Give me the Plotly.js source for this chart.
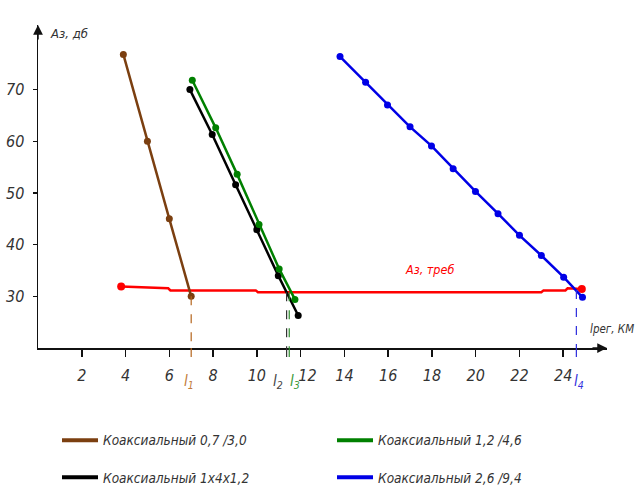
<!DOCTYPE html>
<html><head><meta charset="utf-8">
<script src="https://cdn.plot.ly/plotly-3.0.1.min.js"></script>
<style>html,body{margin:0;padding:0;background:#fff}</style>
</head><body>
<div id="chart" style="width:643px;height:497px"></div>
<script>
// ---- data ----
const brownName = 'Коаксиальный 0,7 /3,0';
const brownX = [3.9, 5.0, 6.0, 7.0];
const brownY = [76.8, 60.0, 45.0, 30.0];

const greenName = 'Коаксиальный 1,2 /4,6';
const greenX = [7.05, 8.12, 9.1, 10.1, 11.02, 11.74];
const greenY = [71.8, 62.6, 53.6, 43.9, 35.3, 29.4];

const blackName = 'Коаксиальный 1х4х1,2';
const blackX = [6.94, 7.96, 9.03, 10.0, 10.98, 11.89];
const blackY = [70.0, 61.3, 51.6, 42.9, 34.0, 26.3];

const blueName = 'Коаксиальный 2,6 /9,4';
const blueX = [13.8, 14.97, 15.97, 17.0, 17.98, 18.97, 19.99, 21.02, 22.0, 23.0, 24.02, 24.88];
const blueY = [76.4, 71.4, 67.0, 62.8, 59.1, 54.7, 50.3, 46.0, 41.8, 37.9, 33.7, 29.8];

const reqLabel = 'Аз, треб';
const reqX = [3.8, 5.1, 5.2, 5.95, 6.05, 9.95, 10.05, 23.0, 23.1, 24.1, 24.2, 24.85];
const reqY = [31.9, 31.7, 31.55, 31.55, 31.15, 31.15, 30.78, 30.78, 31.15, 31.15, 31.55, 31.4];

// regeneration section lengths l1..l4 (x) and where the dashed line starts (y)
const lNames = ['l<sub>1</sub>', 'l<sub>2</sub>', 'l<sub>3</sub>', 'l<sub>4</sub>'];
const lX = [7.0, 11.36, 11.48, 24.6];
const lTopY = [30.0, 30.8, 30.8, 31.2];

const xTicks = [2, 4, 6, 8, 10, 12, 14, 16, 18, 20, 22, 24];
const xTickText = ['2', '4', '6', '8', '10', '\u00a0\u00a0\u00a012', '14', '16', '18', '20', '22', '24'];
const yTicks = [30, 40, 50, 60, 70];
const yTitle = 'Аз, дб';
const xTitle = 'lрег, КМ';

// ---- styling ----
const FONT = "'DejaVu Sans Condensed', 'Liberation Sans', sans-serif";
const C = {brown:'#7b3f10', green:'#008000', black:'#000000', blue:'#0000e6', red:'#ff0000'};
const lColors = ['#b5651d', '#333333', '#2e8b2e', '#2b2bdc'];
const lLabelColors = ['#c27a3a', '#444444', '#3a9a3a', '#3333dd'];
const lLabelX = [6.92, 10.95, 11.75, 24.7];

function series(x, y, color, name) {
  return {x, y, mode:'lines+markers', name, showlegend:false,
    line:{color, width:2.5}, marker:{color, size:7}};
}
function legendEntry(color, name, legend) {
  return {x:[null], y:[null], mode:'lines', name, legend,
    line:{color, width:4}};
}

const traces = [
  {x:reqX, y:reqY, mode:'lines', line:{color:C.red, width:2.5}, showlegend:false, name:reqLabel},
  {x:[reqX[0], reqX[reqX.length-1]], y:[reqY[0], reqY[reqY.length-1]], mode:'markers',
   marker:{color:C.red, size:8}, showlegend:false, name:reqLabel},
  series(brownX, brownY, C.brown, brownName),
  series(blackX, blackY, C.black, blackName),
  series(greenX, greenY, C.green, greenName),
  series(blueX, blueY, C.blue, blueName),
  legendEntry(C.brown, brownName, 'legend'),
  legendEntry(C.green, greenName, 'legend'),
  legendEntry(C.black, blackName, 'legend2'),
  legendEntry(C.blue, blueName, 'legend2')
];

const shapes = [];
const annotations = [];
lX.forEach((x, i) => {
  shapes.push({type:'line', xref:'x', yref:'y', x0:x, x1:x, y0:lTopY[i], y1:20,
    line:{color:lColors[i], width:1.2, dash:'dash'}});
  shapes.push({type:'line', xref:'x', yref:'paper', x0:x, x1:x, y0:0, y1:-0.045,
    line:{color:lColors[i], width:1.2, dash:'dash'}});
  annotations.push({xref:'x', yref:'paper', x:lLabelX[i], y:-0.105, text:lNames[i],
    showarrow:false, xanchor:'center', yanchor:'middle',
    font:{family:FONT, size:15, color:lLabelColors[i], style:'italic'}});
});

// arrows on axes
annotations.push({xref:'x', yref:'y', x:0, y:82.5, ax:0, ay:16, axref:'pixel', ayref:'pixel',
  showarrow:true, arrowhead:2, arrowsize:1.3, arrowwidth:1.5, arrowcolor:'#111', text:'', standoff:0});
annotations.push({xref:'x', yref:'y', x:26, y:20, ax:-16, ay:0, axref:'pixel', ayref:'pixel',
  showarrow:true, arrowhead:2, arrowsize:1.3, arrowwidth:1.5, arrowcolor:'#111', text:'', standoff:0});
// axis titles
annotations.push({xref:'paper', yref:'paper', x:0.0176, y:0.975, text:yTitle, showarrow:false,
  xanchor:'left', yanchor:'middle', font:{family:FONT, size:13, color:'#333', style:'italic'}});
annotations.push({xref:'paper', yref:'paper', x:1.051, y:0.058, text:xTitle, showarrow:false,
  xanchor:'right', yanchor:'middle', font:{family:FONT, size:11.5, color:'#333', style:'italic'}});
// required attenuation label
annotations.push({xref:'x', yref:'y', x:17.87, y:35.2, text:reqLabel, showarrow:false,
  xanchor:'center', yanchor:'middle', font:{family:FONT, size:12.5, color:C.red, style:'italic'}});

const tickFont = {family:FONT, size:16, color:'#333', style:'italic'};
const legFont = {family:FONT, size:13.5, color:'#333', style:'italic'};

const layout = {
  width:643, height:497,
  margin:{l:38, r:36, t:25, b:149.3, pad:0},
  paper_bgcolor:'#fff', plot_bgcolor:'#fff',
  font:{family:FONT, color:'#333'},
  xaxis:{range:[0,26], showline:true, linecolor:'#111', linewidth:1.5,
    ticks:'outside', ticklen:7, tickwidth:1.5, tickcolor:'#111',
    tickvals:xTicks, ticktext:xTickText, tickfont:tickFont, ticklabelstandoff:5,
    showgrid:false, zeroline:false, fixedrange:true},
  xaxis2:{overlaying:'x', matches:'x', anchor:'y', side:'bottom', range:[0,26],
    ticks:'inside', ticklen:7, tickwidth:1.5, tickcolor:'#111', tickvals:xTicks,
    showticklabels:false, showline:false, showgrid:false, zeroline:false},
  yaxis:{range:[20,82.5], showline:true, linecolor:'#111', linewidth:1.5,
    ticks:'outside', ticklen:4, tickwidth:1.5, tickcolor:'#111',
    tickvals:yTicks, ticktext:yTicks.map(String), tickfont:tickFont, ticklabelstandoff:5,
    showgrid:false, zeroline:false, fixedrange:true},
  yaxis2:{overlaying:'y', matches:'y', anchor:'x', side:'left', range:[20,82.5],
    ticks:'inside', ticklen:6, tickwidth:1.5, tickcolor:'#111', tickvals:yTicks,
    showticklabels:false, showline:false, showgrid:false, zeroline:false},
  legend:{orientation:'h', xref:'paper', yref:'container', x:0.0334, y:0.145,
    xanchor:'left', yanchor:'top', itemwidth:36,
    entrywidth:224, font:legFont, bgcolor:'rgba(0,0,0,0)', borderwidth:0},
  legend2:{orientation:'h', xref:'paper', yref:'container', x:0.0334, y:0.0704,
    xanchor:'left', yanchor:'top', itemwidth:36,
    entrywidth:224, font:legFont, bgcolor:'rgba(0,0,0,0)', borderwidth:0},
  shapes, annotations,
  showlegend:true, hovermode:false
};

Plotly.newPlot('chart', traces, layout, {displayModeBar:false, staticPlot:true});
</script>
</body></html>
